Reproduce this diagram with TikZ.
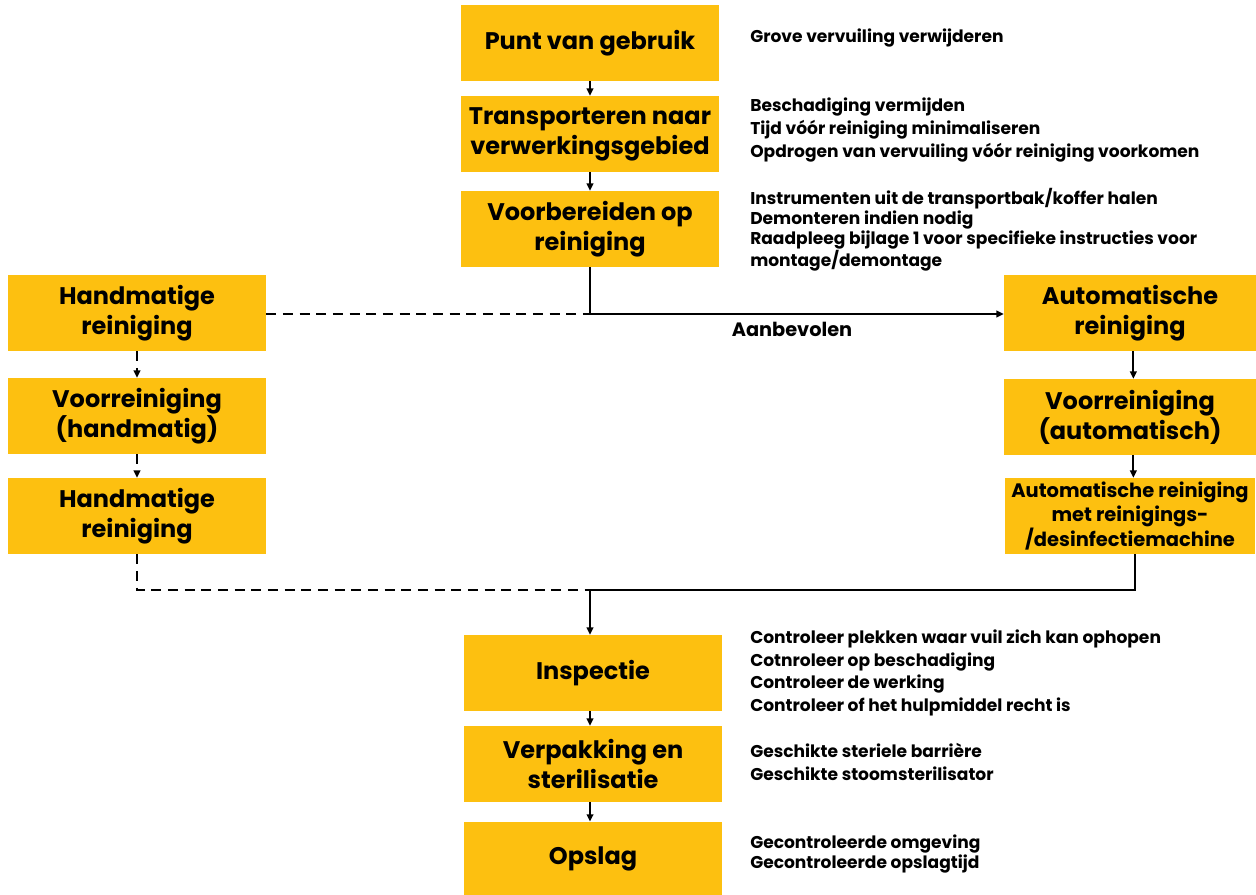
\documentclass[tikz,border=0pt]{standalone}
\usepackage{fontspec}
\setmainfont{Poppins}
\usepackage{tikz}
\usetikzlibrary{arrows.meta,positioning,calc}

\definecolor{stepyellow}{RGB}{253,192,16}

\tikzset{
  stepbox/.style={fill=stepyellow,inner sep=0pt,minimum width=193.5pt,minimum height=57pt,
    align=center,font=\fontsize{18}{22.5}\selectfont\bfseries},
  note/.style={anchor=west,align=left,inner sep=0pt,font=\fontsize{12.8}{17}\selectfont\bfseries},
  arr/.style={-{Triangle[length=5.5pt,width=5pt]}},
  link/.style={line width=1.4pt},
  optional/.style={dash pattern=on 7.5pt off 5pt}
}

\begin{document}
\begin{tikzpicture}[x=0.75pt,y=-0.75pt]
  \useasboundingbox (0,0) rectangle (1256,894);
  % main column
  \node[stepbox] (punt)   at (590,43)  {Punt van gebruik};
  \node[stepbox] (transp) at (590,134) {Transporteren naar\\verwerkingsgebied};
  \node[stepbox] (voorb)  at (590,229) {Voorbereiden op\\reiniging};
  % manual branch
  \node[stepbox] (hand)   at (137,313) {Handmatige\\reiniging};
  \node[stepbox] (vhand)  at (137,416) {Voorreiniging\\(handmatig)};
  \node[stepbox] (hand2)  at (137,516) {Handmatige\\reiniging};
  % automatic branch
  \node[stepbox,minimum width=189pt] (auto)  at (1130,313) {Automatische\\reiniging};
  \node[stepbox,minimum width=189pt] (vauto) at (1130,417) {Voorreiniging\\(automatisch)};
  \node[stepbox,minimum width=188pt,font=\fontsize{14.6}{18.4}\selectfont\bfseries] (adm) at (1130,516)
    {Automatische reiniging\\met reinigings-\\/desinfectiemachine};
  % after cleaning
  \node[stepbox] (insp)   at (593,673) {Inspectie};
  \node[stepbox] (verp)   at (593,764) {Verpakking en\\sterilisatie};
  \node[stepbox,minimum height=55pt] (opsl) at (593,858.5) {Opslag};

  % notes on the right
  \node[note] (n1) at (750,38)  {Grove vervuiling verwijderen};
  \node[note] (n2) at (750,130) {Beschadiging vermijden\\Tijd vóór reiniging minimaliseren\\Opdrogen van vervuiling vóór reiniging voorkomen};
  \node[note,font=\fontsize{12.8}{15}\selectfont\bfseries] (n3) at (750,230)
    {Instrumenten uit de transportbak/koffer halen\\Demonteren indien nodig\\Raadpleeg bijlage 1 voor specifieke instructies voor\\montage/demontage};
  \node[note] (n4) at (750,673) {Controleer plekken waar vuil zich kan ophopen\\Cotnroleer op beschadiging\\Controleer de werking\\Controleer of het hulpmiddel recht is};
  \node[note] (n5) at (750,762) {Geschikte steriele barrière\\Geschikte stoomsterilisator};
  \node[note,font=\fontsize{12.8}{14.3}\selectfont\bfseries] (n6) at (750,854) {Gecontroleerde omgeving\\Gecontroleerde opslagtijd};

  % arrows down the main column
  \draw[link,arr] (punt) -- (transp);
  \draw[link,arr] (transp) -- (voorb);
  % split into the two branches
  \coordinate (split) at (voorb.south |- 0,314);
  \draw[link,arr] (voorb.south) -- (split) -- (split -| auto.west);
  \node[font=\fontsize{14.5}{16}\selectfont\bfseries] (aanb) at (792,329) {Aanbevolen};
  \draw[link,optional] (hand.east |- split) -- (split);
  % manual steps
  \draw[link,optional,arr] (hand) -- (vhand);
  \draw[link,optional,arr] (vhand) -- (hand2);
  % automatic steps
  \draw[link,arr] ([xshift=2.5]auto.south) -- ([xshift=2.5]vauto.north);
  \draw[link,arr] ([xshift=2.5]vauto.south) -- ([xshift=2.5]adm.north);
  % branches join again
  \coordinate (join) at (590,590);
  \draw[link,optional] (hand2.south) |- (join);
  \draw[link] ([xshift=4]adm.south) |- (join);
  \draw[link,arr] (join) -- (join |- insp.north);
  \draw[link,arr] (insp.south -| join) -- (verp.north -| join);
  \draw[link,arr] (verp.south -| join) -- (opsl.north -| join);
\end{tikzpicture}
\end{document}
